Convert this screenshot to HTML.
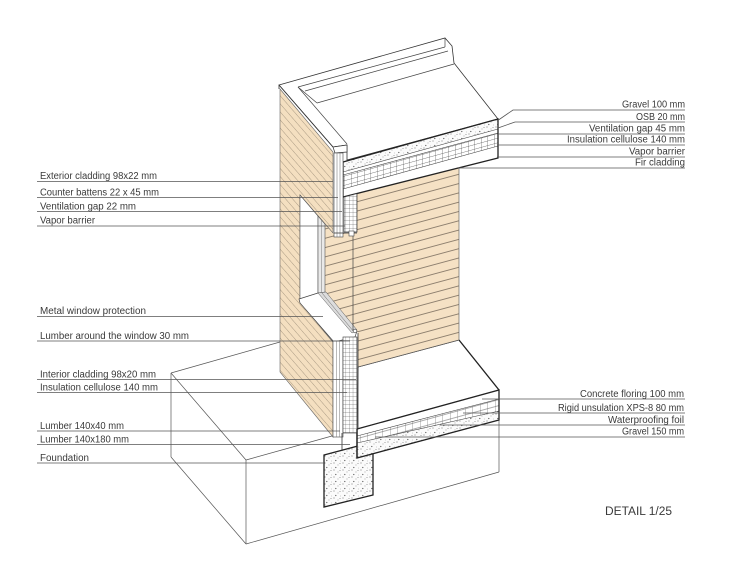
<!DOCTYPE html>
<html><head><meta charset="utf-8"><style>
html,body{margin:0;padding:0;background:#fff;}
svg{display:block;}
text{font-family:"Liberation Sans",Arial,sans-serif;font-size:10px;fill:#3a3a3a;}
</style></head><body>
<svg width="730" height="570" viewBox="0 0 730 570" xmlns="http://www.w3.org/2000/svg">
<defs>
 <pattern id="dots" width="9" height="7" patternUnits="userSpaceOnUse">
  <rect width="9" height="7" fill="#fbfbfb"/>
  <circle cx="1" cy="1" r="0.55" fill="#666"/>
  <circle cx="5" cy="3" r="0.45" fill="#888"/>
  <circle cx="2.8" cy="5.5" r="0.6" fill="#555"/>
  <circle cx="7.5" cy="6" r="0.4" fill="#999"/>
  <rect x="6.5" y="1.2" width="1" height="0.7" fill="#777"/>
 </pattern>
 <pattern id="gridR" width="6.5" height="4.6" patternUnits="userSpaceOnUse" patternTransform="skewY(-15.5)">
  <path d="M0 0V4.6M0 0H6.5" stroke="#444" stroke-width="0.6" fill="none"/>
 </pattern>
 <pattern id="gridF" width="7.5" height="6" patternUnits="userSpaceOnUse" patternTransform="skewY(-15.4)">
  <path d="M0 0V6M0 3H7.5" stroke="#555" stroke-width="0.55" fill="none"/>
 </pattern>
 <pattern id="gridW" width="3.6" height="4" patternUnits="userSpaceOnUse">
  <path d="M0 0V4M0 0H3.6" stroke="#444" stroke-width="0.5" fill="none"/>
 </pattern>
 <pattern id="hatch" width="5.3" height="10" patternUnits="userSpaceOnUse" patternTransform="rotate(-41)">
  <line x1="0" y1="0" x2="0" y2="10" stroke="#8a7c69" stroke-width="0.7"/>
 </pattern>
 <pattern id="siding" width="20" height="9.3" patternUnits="userSpaceOnUse" patternTransform="skewY(-15.1)">
  <line x1="0" y1="0.5" x2="20" y2="0.5" stroke="#6c6052" stroke-width="0.8"/>
 </pattern>
</defs>

<!-- ground box (behind) -->
<g stroke="#555" stroke-width="0.7" fill="none">
 <line x1="171" y1="373" x2="280" y2="342"/>
 <line x1="171" y1="373" x2="246" y2="460"/>
 <line x1="246" y1="460" x2="357" y2="429"/>
 <line x1="171" y1="373" x2="171" y2="457"/>
 <line x1="171" y1="457" x2="246" y2="544"/>
 <line x1="246" y1="460" x2="246" y2="544"/>
 <line x1="246" y1="544" x2="499" y2="472"/>
 <line x1="499" y1="390" x2="499" y2="472"/>
</g>

<!-- floor top -->
<polygon points="358,367 459,340 499,390 357,429" fill="#fff" stroke="#333" stroke-width="0.7"/>
<line x1="459" y1="340" x2="499" y2="390" stroke="#222" stroke-width="1.3"/>

<!-- foundation -->
<polygon points="324,455 373,442 373,495 324,507" fill="url(#dots)" stroke="#222" stroke-width="1.3"/>

<!-- floor slab front -->
<polygon points="357,429 499,390 499,399 357,436" fill="#fff"/>
<polygon points="357,436 499,399 499,411 357,443" fill="url(#gridF)"/>
<polygon points="357,443 499,411 499,420 357,458" fill="url(#dots)"/>
<g stroke="#444" stroke-width="0.6">
 <line x1="357" y1="436" x2="499" y2="399"/>
 <line x1="357" y1="443" x2="499" y2="411"/>
</g>
<polygon points="357,429 499,390 499,420 357,458" fill="none" stroke="#222" stroke-width="1.3"/>

<!-- interior tan wall -->
<polygon points="325,224 333,233 357,233 357,193.5 459,168 459,340 358,367 358,333 325,293" fill="#f5e1c4"/>
<polygon points="325,224 333,233 357,233 357,193.5 459,168 459,340 358,367 358,333 325,293" fill="url(#siding)"/>
<line x1="459" y1="168" x2="459" y2="340" stroke="#666" stroke-width="0.7"/>
<line x1="358" y1="367" x2="459" y2="340" stroke="#555" stroke-width="0.7"/>

<!-- roof top -->
<polygon points="279,85 445,38 452,46 454,63 498,119 347,160 347,145 333,147" fill="#fff" stroke="#333" stroke-width="0.8"/>
<g stroke="#444" stroke-width="0.7" fill="none">
 <line x1="298" y1="87" x2="445" y2="47"/>
 <line x1="305" y1="91" x2="448" y2="51"/>
 <line x1="317" y1="103" x2="454" y2="64"/>
 <line x1="298" y1="87" x2="347" y2="144"/>
 <line x1="298" y1="87" x2="317" y2="103"/>
 <line x1="445" y1="38" x2="445" y2="47"/>
</g>

<!-- roof slab front face -->
<polygon points="343,162 498,119 498,129 343,172" fill="url(#dots)"/>
<polygon points="343,175 498,133 498,146 343,189" fill="url(#gridR)"/>
<g stroke="#444" stroke-width="0.6">
 <line x1="343" y1="172" x2="498" y2="129"/>
 <line x1="343" y1="175" x2="498" y2="133"/>
 <line x1="343" y1="189" x2="498" y2="146"/>
</g>
<polygon points="343,162 498,119 498,158 343,197" fill="none" stroke="#222" stroke-width="1.3"/>

<!-- outer tan face -->
<polygon points="280,89 333,152 333,233 300,195 300,302 333,342 333,437 280,372" fill="#f4dfc0"/>
<polygon points="280,89 333,152 333,233 300,195 300,302 333,342 333,437 280,372" fill="url(#hatch)"/>
<polygon points="280,89 333,152 333,233 300,195 300,302 333,342 333,437 280,372" fill="none" stroke="#666" stroke-width="0.6"/>
<line x1="279" y1="85" x2="333" y2="147" stroke="#333" stroke-width="0.8"/>
<line x1="279" y1="85" x2="279" y2="89" stroke="#333" stroke-width="0.8"/>

<!-- window reveal -->
<polygon points="300,195 318,216 318,293 300,299" fill="#fff" stroke="#555" stroke-width="0.6"/>
<polygon points="318,216 325,224 325,292 318,293" fill="#e9e9e9" stroke="#555" stroke-width="0.6"/>
<line x1="321.5" y1="220" x2="321.5" y2="292" stroke="#777" stroke-width="0.5"/>

<!-- sill -->
<polygon points="299,299 318,293 326,293 357,331 355,337 334,342 300,303" fill="#fff" stroke="#444" stroke-width="0.7"/>
<polygon points="318,293 326,292 357,330 352,333" fill="#dcdcdc" stroke="#555" stroke-width="0.5"/>
<line x1="322" y1="293" x2="354" y2="332" stroke="#666" stroke-width="0.5"/>
<circle cx="355" cy="331" r="1.8" fill="#fff" stroke="#444" stroke-width="0.6"/>

<!-- wall section top -->
<polygon points="333,147 347,145 347,152 335,153" fill="#fff" stroke="#333" stroke-width="0.7"/>
<rect x="334" y="153" width="9" height="84" fill="#fff" stroke="#444" stroke-width="0.6"/>
<line x1="337" y1="153" x2="337" y2="237" stroke="#666" stroke-width="0.5"/>
<line x1="340" y1="153" x2="340" y2="237" stroke="#666" stroke-width="0.5"/>
<polygon points="344,197 357,193.5 357,232 344,232" fill="#fff"/>
<polygon points="344,197 357,193.5 357,232 344,232" fill="url(#gridW)" stroke="#333" stroke-width="0.7"/>
<line x1="334" y1="233" x2="357" y2="233" stroke="#333" stroke-width="0.8"/>
<rect x="349" y="231" width="5" height="5" fill="#fff" stroke="#444" stroke-width="0.6"/>
<line x1="353" y1="236" x2="353" y2="331" stroke="#444" stroke-width="0.7"/>

<!-- wall section bottom -->
<rect x="333" y="341" width="10" height="96" fill="#fff" stroke="#444" stroke-width="0.6"/>
<line x1="336.5" y1="341" x2="336.5" y2="437" stroke="#777" stroke-width="0.5"/>
<line x1="339.5" y1="341" x2="339.5" y2="437" stroke="#777" stroke-width="0.5"/>
<rect x="343" y="337" width="14" height="96" fill="#fff"/>
<rect x="343" y="337" width="14" height="96" fill="url(#gridW)" stroke="#333" stroke-width="0.6"/>
<line x1="358" y1="333" x2="358" y2="429" stroke="#333" stroke-width="0.8"/>
<line x1="342" y1="433" x2="342" y2="451" stroke="#333" stroke-width="0.8"/>
<line x1="357" y1="429" x2="357" y2="458" stroke="#222" stroke-width="1.3"/>

<!-- leader lines -->
<g stroke="#555" stroke-width="0.8" fill="none">
 <line x1="37" y1="181.5" x2="333" y2="181.5"/>
 <line x1="37" y1="197.5" x2="338" y2="197.5"/>
 <line x1="37" y1="211.5" x2="342" y2="211.5"/>
 <line x1="37" y1="226" x2="345" y2="226"/>
 <line x1="37" y1="316.5" x2="323" y2="316.5"/>
 <line x1="37" y1="341" x2="350" y2="341"/>
 <line x1="37" y1="379.5" x2="356" y2="379.5"/>
 <line x1="37" y1="392.5" x2="347" y2="392.5"/>
 <line x1="37" y1="431" x2="340" y2="431"/>
 <line x1="37" y1="444.5" x2="350" y2="444.5"/>
 <line x1="37" y1="463" x2="324" y2="463"/>

 <polyline points="497,121 513,110 685,110"/>
 <polyline points="498,128 515,122 685,122"/>
 <line x1="497" y1="134" x2="685" y2="134"/>
 <line x1="497" y1="145" x2="685" y2="145"/>
 <line x1="497" y1="157" x2="685" y2="157"/>
 <line x1="458" y1="168" x2="685" y2="168"/>

 <line x1="482" y1="399" x2="685" y2="399"/>
 <line x1="463" y1="413" x2="685" y2="413"/>
 <line x1="440" y1="425" x2="685" y2="425"/>
 <line x1="375" y1="437" x2="685" y2="437"/>
</g>

<!-- labels left -->
<text x="40" y="179" textLength="117" lengthAdjust="spacingAndGlyphs">Exterior cladding 98x22 mm</text>
<text x="40" y="195.5" textLength="119" lengthAdjust="spacingAndGlyphs">Counter battens 22 x 45 mm</text>
<text x="40" y="209.5" textLength="96" lengthAdjust="spacingAndGlyphs">Ventilation gap 22 mm</text>
<text x="40" y="223.5" textLength="55" lengthAdjust="spacingAndGlyphs">Vapor barrier</text>
<text x="40" y="314" textLength="106" lengthAdjust="spacingAndGlyphs">Metal window protection</text>
<text x="40" y="339" textLength="149" lengthAdjust="spacingAndGlyphs">Lumber around the window 30 mm</text>
<text x="40" y="377.5" textLength="116" lengthAdjust="spacingAndGlyphs">Interior cladding 98x20 mm</text>
<text x="40" y="390.5" textLength="118" lengthAdjust="spacingAndGlyphs">Insulation cellulose 140 mm</text>
<text x="40" y="429" textLength="84" lengthAdjust="spacingAndGlyphs">Lumber 140x40 mm</text>
<text x="40" y="442.5" textLength="89" lengthAdjust="spacingAndGlyphs">Lumber 140x180 mm</text>
<text x="40" y="461" textLength="49" lengthAdjust="spacingAndGlyphs">Foundation</text>

<!-- labels right -->
<text x="622" y="107.5" textLength="63" lengthAdjust="spacingAndGlyphs">Gravel 100 mm</text>
<text x="636" y="120" textLength="49" lengthAdjust="spacingAndGlyphs">OSB 20 mm</text>
<text x="589" y="131.5" textLength="96" lengthAdjust="spacingAndGlyphs">Ventilation gap 45 mm</text>
<text x="567" y="142.5" textLength="118" lengthAdjust="spacingAndGlyphs">Insulation cellulose 140 mm</text>
<text x="629" y="154.5" textLength="56" lengthAdjust="spacingAndGlyphs">Vapor barrier</text>
<text x="635" y="165.5" textLength="50" lengthAdjust="spacingAndGlyphs">Fir cladding</text>

<text x="580" y="397" textLength="104" lengthAdjust="spacingAndGlyphs">Concrete floring 100 mm</text>
<text x="558" y="411" textLength="126" lengthAdjust="spacingAndGlyphs">Rigid unsulation XPS-8 80 mm</text>
<text x="608" y="423" textLength="76" lengthAdjust="spacingAndGlyphs">Waterproofing foil</text>
<text x="622" y="434.5" textLength="62" lengthAdjust="spacingAndGlyphs">Gravel 150 mm</text>

<text x="605" y="515" textLength="67" lengthAdjust="spacingAndGlyphs" style="font-size:11.5px">DETAIL 1/25</text>
</svg>
</body></html>
